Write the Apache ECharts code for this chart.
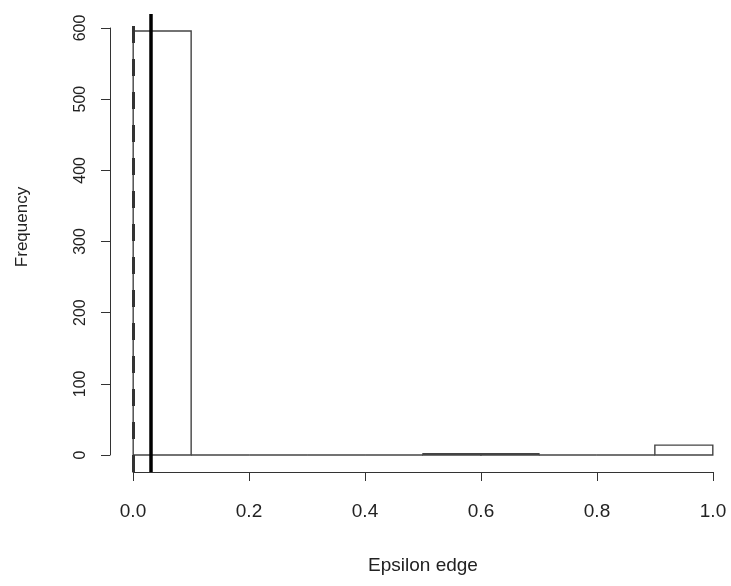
<!DOCTYPE html>
<html><head><meta charset="utf-8">
<script src="https://cdn.jsdelivr.net/npm/echarts@6/dist/echarts.min.js"></script>
<style>html,body{margin:0;padding:0;background:#fff}#c{width:731px;height:586px}</style>
</head><body><div id="c"></div><script>
// Histogram bins and counts
const binStart = [0.0, 0.1, 0.2, 0.3, 0.4, 0.5, 0.6, 0.7, 0.8, 0.9];
const binEnd   = [0.1, 0.2, 0.3, 0.4, 0.5, 0.6, 0.7, 0.8, 0.9, 1.0];
const counts   = [596, 0, 0, 0, 0, 2, 2, 0, 0, 14];
// Axis ticks
const xTicks = [0.0, 0.2, 0.4, 0.6, 0.8, 1.0];
const yTicks = [0, 100, 200, 300, 400, 500, 600];
// Reference vertical lines
const solidLineX = 0.0276;
const dashedLineX = 0.0;
const xTitle = 'Epsilon edge';
const yTitle = 'Frequency';

const FONT = 'Liberation Sans, Arial, sans-serif';
const binData = binStart.map((s, i) => [s, binEnd[i], counts[i]]);

const chart = echarts.init(document.getElementById('c'), null, {renderer: 'canvas'});
chart.setOption({
  animation: false,
  backgroundColor: '#fff',
  grid: [
    {left: 110, top: 14, width: 626, height: 458, containLabel: false, outerBoundsMode: 'none'},
    {left: 133, top: 14, width: 580, height: 458, containLabel: false, outerBoundsMode: 'none'},
    {left: 110, top: 28, width: 600, height: 427, containLabel: false, outerBoundsMode: 'none'}
  ],
  xAxis: [
    {gridIndex: 0, type: 'value', min: -0.04, max: 1.04, show: false},
    {gridIndex: 1, type: 'value', min: 0, max: 1, interval: 0.2, position: 'bottom',
      axisLine: {show: true, lineStyle: {color: '#333', width: 1}},
      axisTick: {show: true, length: 9, inside: false, lineStyle: {color: '#333'}, customValues: xTicks},
      axisLabel: {show: true, margin: 30, fontSize: 19, color: '#222', fontFamily: FONT,
        customValues: xTicks, formatter: v => Number(v).toFixed(1)},
      splitLine: {show: false}},
    {gridIndex: 2, type: 'value', min: 0, max: 1, show: false}
  ],
  yAxis: [
    {gridIndex: 0, type: 'value', min: -23.84, max: 619.84, show: false},
    {gridIndex: 1, type: 'value', min: 0, max: 1, show: false},
    {gridIndex: 2, type: 'value', min: 0, max: 600, interval: 100, position: 'left',
      axisLine: {show: true, lineStyle: {color: '#333', width: 1}},
      axisTick: {show: true, length: 9, inside: false, lineStyle: {color: '#333'}, customValues: yTicks},
      axisLabel: {show: true, rotate: 90, margin: 21, fontSize: 16, color: '#222', fontFamily: FONT,
        customValues: yTicks},
      splitLine: {show: false}}
  ],
  graphic: [
    {type: 'text', x: 423, y: 566, style: {text: xTitle, fill: '#222', font: '19px ' + FONT, align: 'center', verticalAlign: 'middle'}},
    {type: 'text', x: 22, y: 227, rotation: Math.PI / 2, style: {text: yTitle, fill: '#222', font: '17px ' + FONT, align: 'center', verticalAlign: 'middle'}}
  ],
  series: [
    {
      type: 'custom', xAxisIndex: 0, yAxisIndex: 0, clip: false, z: 2,
      data: binData,
      renderItem: function (params, api) {
        const p0 = api.coord([api.value(0), 0]);
        const p1 = api.coord([api.value(1), api.value(2)]);
        if (api.value(2) === 0) {
          return {type: 'line', shape: {x1: p0[0], y1: p0[1], x2: p1[0], y2: p0[1]},
            style: {stroke: '#444', lineWidth: 1.4}};
        }
        return {type: 'rect',
          shape: {x: p0[0], y: p1[1], width: p1[0] - p0[0], height: p0[1] - p1[1]},
          style: {fill: '#fff', stroke: '#444', lineWidth: 1.4}};
      }
    },
    {
      type: 'line', xAxisIndex: 0, yAxisIndex: 0, data: [], z: 5,
      markLine: {
        silent: true, symbol: ['none', 'none'], animation: false,
        label: {show: false},
        data: [
          {xAxis: dashedLineX, lineStyle: {color: '#333', width: 3, type: [17, 16]}},
          {xAxis: solidLineX, lineStyle: {color: '#000', width: 3.5, type: 'solid'}}
        ]
      }
    }
  ]
});
</script></body></html>
